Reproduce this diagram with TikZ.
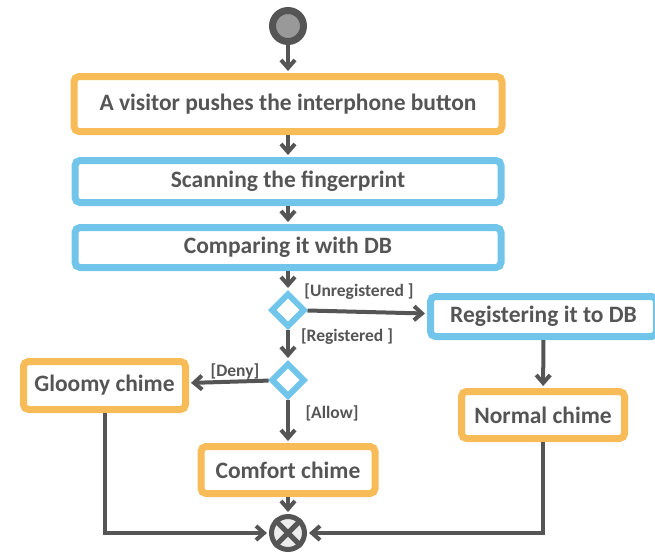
\documentclass[tikz,border=0pt]{standalone}
\usepackage{fontspec}
\setmainfont{Carlito}
\usetikzlibrary{arrows.meta,shapes.geometric}

\definecolor{linegray}{HTML}{555555}
\definecolor{textgray}{HTML}{555555}
\definecolor{boxorange}{HTML}{F7BB57}
\definecolor{boxblue}{HTML}{71C5EB}

\tikzset{
  action/.style={draw=#1, line width=7pt, rounded corners=5pt, fill=white,
    text=textgray, font=\bfseries\fontsize{23.5}{28}\selectfont, inner sep=0pt},
  decision/.style={diamond, draw=boxblue, line width=6pt, fill=white,
    minimum width=34pt, minimum height=34pt, inner sep=0pt},
  flow/.style={draw=linegray, line width=4pt, shorten >=2pt,
    -{Straight Barb[length=8pt,width=14pt]}},
  guard/.style={text=textgray, font=\bfseries\fontsize{17.5}{21}\selectfont, inner sep=1pt}
}

\begin{document}
\begin{tikzpicture}[x=1pt,y=-1pt]
\useasboundingbox (0,0) rectangle (655,552);

% start and end
\node[circle, draw=linegray, line width=7pt, fill=linegray!60, minimum size=31pt, inner sep=0pt] (start) at (288,26) {};
\node[circle, draw=linegray, line width=5pt, fill=gray!15, minimum size=33pt, inner sep=0pt] (end) at (288,533) {};
\draw[linegray, line width=5pt] (end.45) -- (end.225);
\draw[linegray, line width=5pt] (end.135) -- (end.315);

% actions
\node[action=boxorange, minimum width=428pt, minimum height=55pt] (visitor) at (288,104) {A visitor pushes the interphone button};
\node[action=boxblue, minimum width=426pt, minimum height=42pt] (scan) at (288,181.5) {Scanning the fingerprint};
\node[action=boxblue, minimum width=426pt, minimum height=40pt] (compare) at (288,247.5) {Comparing it with DB};
\node[action=boxblue, minimum width=226pt, minimum height=40pt] (register) at (543.5,316.5) {Registering it to DB};
\node[action=boxorange, minimum width=162pt, minimum height=48pt] (gloomy) at (104.5,385.5) {Gloomy chime};
\node[action=boxorange, minimum width=163pt, minimum height=47pt] (normal) at (543,415) {Normal chime};
\node[action=boxorange, minimum width=174pt, minimum height=47pt] (comfort) at (288,470) {Comfort chime};

% decisions
\node[decision] (known) at (288,310) {};
\node[decision] (allow) at (288,380) {};

% main line
\draw[flow] (start) -- (visitor);
\draw[flow] (visitor) -- (scan);
\draw[flow] (scan) -- (compare);
\draw[flow] (compare) -- (known);
\draw[flow] (known) -- (allow);
\draw[flow] (allow) -- (comfort);
\draw[flow] (comfort) -- (end);

% branches
\draw[flow] (known) -- (register);
\draw[flow] (register) -- (normal);
\draw[flow] (allow) -- (gloomy);
\draw[flow] (gloomy.south) |- (end);
\draw[flow] (normal.south) |- (end);

% guards
\node[guard] (unreg) at (359,292) {[Unregistered ]};
\node[guard] (reg) at (347,337) {[Registered ]};
\node[guard] (deny) at (235,371) {[Deny]};
\node[guard] (ok) at (332,413) {[Allow]};

\end{tikzpicture}
\end{document}
